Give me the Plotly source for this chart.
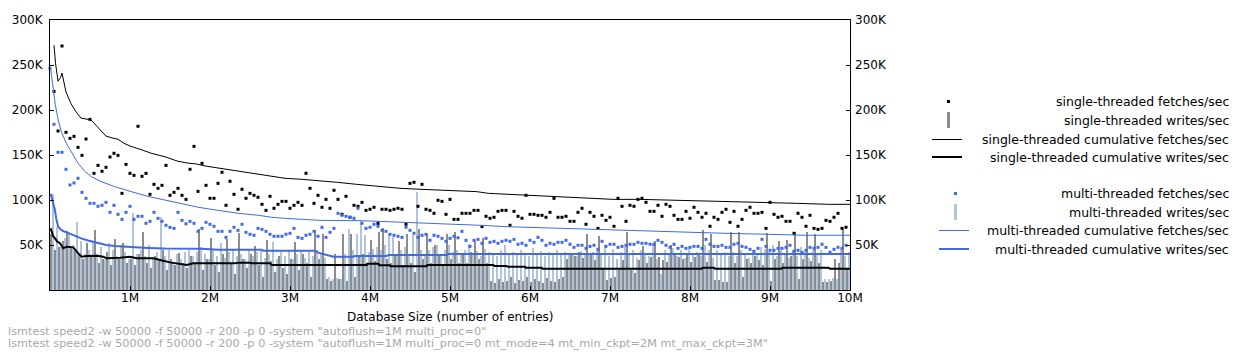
import plotly.graph_objects as go

# ---------------- data (values in thousands of ops/sec) ----------------
STEP = 50000
N_STEPS = 200
db_size = [STEP * i for i in range(N_STEPS)]

st_fetch = [None, 220.7, 176.7, 271.1, 175.2, 168.5, 170.7, 158.5, 149.6, 167.8,
            189.6, 129.6, 138.5, 131.9, 136.3, 147.8, 151.9, 149.6, 107.4, 139.6,
            129.6, 127.4, 181.9, 126.3, 129.6, 106.3, 117.4, 113.0, 116.3, 138.5,
            105.2, 108.5, 113.0, 105.2, 100.7, 134.1, 159.6, 109.6, 140.7, 116.3,
            101.9, 101.9, 118.5, 130.8, 94.1, 120.8, 106.3, 89.7, 111.9, 101.9,
            107.4, 105.2, 103.0, 95.2, 88.5, 104.1, 90.8, 95.2, 98.5, 98.5,
            90.8, 94.1, 97.4, 94.1, 129.7, 113.0, 96.3, 105.2, 91.9, 100.7,
            90.8, 110.8, 100.7, 84.1, 104.1, 80.8, 94.1, 93.0, 97.4, 88.5,
            89.7, 91.9, 74.0, 89.7, 89.7, 88.5, 89.7, 90.8, 89.7, 73.0,
            118.5, 119.7, 93.0, 117.4, 89.7, 88.5, 85.2, 99.7, 98.5, 84.1,
            100.7, 78.5, 78.5, 85.2, 85.2, 85.2, 88.5, 88.5, 70.4, 81.9,
            79.7, 80.8, 87.4, 88.5, 88.5, 71.9, 87.4, 81.9, 79.7, 105.2,
            84.1, 84.1, 83.0, 83.0, 80.8, 86.3, 101.9, 80.8, 80.8, 81.9,
            76.3, 76.3, 86.3, 90.8, 73.0, 86.3, 81.9, 68.5, 83.0, 77.4,
            80.8, 70.8, 101.9, 93.0, 76.3, 94.1, 93.0, 100.7, 101.9, 97.4,
            87.4, 87.4, 94.1, 81.9, 95.2, 93.0, 83.0, 78.5, 78.5, 87.4,
            79.7, 91.9, 86.3, 80.8, 85.2, 70.8, 80.8, 78.5, 86.3, 89.7,
            75.2, 87.4, 70.8, 78.5, 88.5, 91.9, 85.2, 85.2, 86.3, 68.5,
            97.4, 84.1, 80.8, 81.9, 76.3, 76.3, 63.0, 85.2, 80.8, 70.8,
            83.0, 68.5, 67.4, 68.5, 77.4, 76.3, 80.8, 85.2, 68.5, 69.7]

mt_fetch = [246.3, 184.1, 153.0, 153.0, 134.1, 116.7, 118.9, 124.1, 108.5, 101.9,
            96.3, 96.3, 93.0, 94.1, 97.4, 86.3, 94.1, 84.1, 78.5, 86.3,
            93.0, 78.5, 81.9, 81.9, 74.1, 76.3, 86.3, 79.6, 76.3, 71.9,
            69.6, 68.5, 86.3, 77.4, 73.5, 76.3, 74.1, 65.2, 68.5, 75.2,
            73.0, 70.8, 65.2, 65.2, 58.5, 65.2, 69.7, 66.3, 73.0, 64.1,
            61.9, 60.8, 68.5, 67.4, 65.2, 61.9, 59.7, 59.7, 59.7, 61.9,
            63.0, 68.5, 58.5, 57.4, 60.8, 61.9, 65.2, 59.7, 69.7, 58.5,
            64.1, 68.5, 85.2, 83.0, 81.9, 80.8, 79.7, 90.8, 74.1, 68.5,
            69.7, 73.0, 70.8, 66.3, 65.2, 61.9, 60.8, 59.7, 58.5, 69.7,
            66.3, 63.0, 58.5, 60.8, 61.9, 55.2, 60.8, 59.7, 57.4, 54.1,
            57.4, 59.7, 58.0, 65.2, 55.2, 48.5, 55.2, 56.3, 51.9, 57.4,
            53.0, 54.1, 51.9, 54.1, 55.2, 54.1, 56.3, 50.8, 51.9, 49.7,
            55.2, 53.0, 58.5, 55.2, 49.7, 51.9, 50.8, 53.0, 53.0, 55.2,
            50.8, 47.4, 49.7, 49.7, 46.3, 48.5, 49.7, 45.2, 54.1, 48.5,
            50.8, 50.8, 47.4, 48.5, 49.7, 50.8, 50.8, 53.0, 51.9, 51.9,
            50.8, 50.8, 55.2, 53.0, 49.7, 47.4, 50.8, 46.3, 48.5, 46.3,
            47.4, 48.5, 48.5, 46.3, 56.3, 50.8, 48.5, 48.5, 49.7, 47.4,
            47.4, 50.8, 51.9, 48.5, 47.4, 45.2, 43.0, 46.3, 56.3, 48.5,
            44.1, 44.1, 46.3, 46.3, 47.4, 49.7, 43.0, 44.1, 41.9, 44.1,
            47.4, 46.3, 47.4, 50.8, 47.4, 41.9, 45.2, 47.4, 46.3, 49.7]

# writes/sec per step
st_write = [62, 44, 48, 55, 66, 48, 45, 40, 35, 52,
            38, 67, 30, 35, 42, 28, 57, 35, 52, 30,
            35, 28, 40, 64, 30, 25, 38, 32, 45, 22,
            35, 28, 41, 30, 25, 38, 30, 68, 22, 35,
            58, 28, 20, 40, 57, 30, 18, 63, 35, 25,
            40, 49, 28, 15, 56, 32, 20, 38, 25, 18,
            35, 53, 22, 40, 30, 15, 67, 35, 62, 12,
            10, 40, 12, 62, 10, 62, 15, 38, 40, 30,
            56, 32, 64, 69, 35, 30, 40, 54, 28, 62,
            30, 20, 68, 35, 62, 30, 50, 38, 28, 62,
            35, 64, 30, 40, 30, 42, 54, 35, 58, 30,
            10, 8, 12, 9, 10, 14, 8, 11, 10, 15,
            9, 12, 10, 8, 13, 10, 9, 12, 14, 35,
            40, 38, 42, 36, 62, 40, 33, 60, 24, 11,
            13, 15, 22, 33, 64, 22, 19, 33, 49, 30,
            37, 54, 37, 33, 31, 50, 39, 37, 35, 41,
            31, 37, 41, 67, 31, 62, 11, 11, 9, 9,
            65, 30, 65, 15, 35, 30, 38, 33, 28, 63,
            10, 35, 54, 30, 56, 38, 65, 12, 35, 65,
            32, 62, 30, 9, 9, 10, 35, 30, 68, 25]

mt_write = [107, 70, 48, 58, 62, 50, 76, 55, 40, 45,
            55, 40, 48, 35, 52, 45, 38, 50, 42, 35,
            86, 40, 45, 38, 50, 35, 42, 81, 38, 45,
            30, 40, 35, 42, 45, 38, 42, 48, 40, 35,
            44, 38, 52, 36, 42, 46, 38, 40, 35, 44,
            38, 42, 45, 36, 40, 53, 35, 42, 38, 45,
            34, 40, 44, 36, 42, 38, 45, 40, 36, 14,
            12, 13, 12, 40, 68, 45, 62, 78, 61, 42,
            46, 48, 45, 50, 62, 59, 40, 45, 48, 40,
            61, 109, 45, 40, 44, 48, 50, 40, 45, 50,
            42, 44, 40, 45, 51, 40, 43, 38, 46, 42,
            40, 38, 44, 50, 40, 42, 39, 44, 41, 38,
            47, 40, 43, 38, 42, 40, 44, 39, 42, 41,
            40, 38, 43, 40, 39, 42, 45, 40, 50, 38,
            46, 35, 42, 48, 40, 44, 36, 45, 40, 38,
            52, 35, 18, 44, 40, 47, 38, 45, 36, 48,
            40, 42, 38, 50, 44, 36, 45, 40, 42, 38,
            42, 38, 45, 40, 36, 44, 40, 48, 46, 42,
            50, 38, 45, 40, 36, 44, 38, 48, 42, 36,
            44, 40, 45, 12, 12, 13, 12, 46, 38, 42]

# cumulative series (database size in thousands of entries, value in K/sec)
st_cum_fetch_x = [50, 69, 100, 131, 150, 200, 263, 325, 388, 450, 513, 575, 638, 700, 775, 850,
                  925, 1000, 1138, 1263, 1438, 1600, 1725, 1834, 1938, 2104, 2313, 2521, 2729,
                  2938, 3146, 3271, 3438, 3584, 3834, 4084, 4250, 4375, 4625, 4834, 5084, 5334,
                  5479, 5729, 5979, 6229, 6521, 6813, 7041, 7375, 7875, 8334, 8500, 8875, 9334,
                  9729, 10000]
st_cum_fetch = [272, 252, 232, 236, 241, 220, 207, 198, 191, 190, 189, 183, 177, 171, 169, 167.5,
                163, 160, 156, 152, 148, 143, 141, 140, 137.8, 135.6, 132.6, 129.6, 126.7,
                124.1, 123, 122.2, 120.4, 119.7, 117.4, 115.2, 113.7, 113, 111.9, 111.1, 109.6,
                109.3, 107.4, 106.3, 105.2, 104.1, 103, 102.2, 100.7, 100.7, 99.7, 98.9, 98.5,
                97.8, 96.3, 95.2, 95.2]

st_cum_write_x = [9, 38, 63, 88, 125, 166, 209, 291, 354, 396, 459, 584, 666, 709, 875, 1000,
                  1084, 1291, 1375, 1500, 1709, 1791, 2313, 2354, 2500, 2521, 2750, 2771, 3959,
                  3966, 4104, 4116, 4250, 4259, 4709, 4716, 5541, 5554, 5709, 5721, 5938, 5946,
                  6146, 6154, 8146, 8159, 8300, 8313, 9146, 9154, 9729, 9750, 10000]
st_cum_write = [68.5, 60, 57.4, 54, 52, 46.3, 48.1, 47.4, 40.7, 37, 37.8, 38.1, 37, 35.2, 35.9, 37,
                35.2, 35.2, 33.3, 30.7, 27.8, 29.6, 29.6, 30.4, 30.4, 29.6, 29.6, 27.8, 27.8,
                29.3, 29.3, 27.4, 27.4, 26.3, 26.3, 27.8, 27.8, 26.7, 26.7, 25.9, 25.9, 24.8,
                24.8, 23.7, 23.7, 24.8, 24.8, 23.7, 23.7, 24.8, 24.8, 23.7, 23.7]

mt_cum_fetch_x = [9, 38, 66, 100, 141, 204, 266, 350, 434, 516, 641, 809, 1016, 1225, 1434, 1641,
                  1725, 1854, 2021, 2188, 2354, 2604, 2771, 2938, 3104, 3375, 3896, 4250, 4541,
                  4875, 5188, 5375, 5688, 5979, 6334, 6688, 6991, 7438, 7938, 8438, 8979, 9438,
                  10000]
mt_cum_fetch = [245, 226, 206, 190, 176, 163, 154, 141, 132, 126, 120.4, 114.8, 109.3, 104, 100,
                96, 94.4, 91.9, 89.6, 87.4, 85.2, 83, 80.8, 79.6, 78.5, 77.4, 77, 75.9, 74.8,
                73.7, 73, 71.9, 70.4, 69.6, 68.1, 67.4, 66.7, 65.2, 64.1, 63, 61.9, 60.8, 60.8]

mt_cum_write_x = [9, 38, 59, 79, 100, 125, 163, 225, 309, 391, 475, 559, 641, 704, 809, 1016,
                  1225, 1434, 1725, 1896, 2104, 2646, 2666, 3313, 3354, 3459, 3541, 3791, 3813,
                  4209, 4229, 4959, 4966, 10000]
mt_cum_write = [107, 97, 90, 79, 71, 68, 65.5, 63.5, 60, 57.4, 55, 53, 51.5, 50, 49, 47.5, 46.8,
                46.1, 45.9, 45.9, 44.8, 44.8, 43.7, 43.7, 41.5, 38.9, 37, 37, 37.8, 37.8, 38.9,
                38.9, 40, 40]

y_ticks = [50, 100, 150, 200, 250, 300]
y_tick_text = ["50K", "100K", "150K", "200K", "250K", "300K"]
x_ticks = [1e6 * k for k in range(1, 11)]
x_tick_text = ["%dM" % k for k in range(1, 11)]

legend_labels = ["single-threaded fetches/sec", "single-threaded writes/sec",
                 "single-threaded cumulative fetches/sec", "single-threaded cumulative writes/sec",
                 "multi-threaded fetches/sec", "multi-threaded writes/sec",
                 "multi-threaded cumulative fetches/sec", "multi-threaded cumulative writes/sec"]
footer_lines = ['lsmtest speed2 -w 50000 -f 50000 -r 200 -p 0 -system "autoflush=1M multi_proc=0"',
                'lsmtest speed2 -w 50000 -f 50000 -r 200 -p 0 -system "autoflush=1M multi_proc=0 mt_mode=4 mt_min_ckpt=2M mt_max_ckpt=3M"']

# ---------------- styling ----------------
BLACK = "#000000"
GRAY = "#8c8c8c"
LIGHTBLUE = "#b0c4de"
BLUE = "#4169e1"
FONT = "DejaVu Sans"

W, H = 1252, 352
L, R, T, B = 50, 850, 20, 290  # plot area in pixels
PXW = (R - L) / 1e7  # pixels per entry

fig = go.Figure()

bar_w = 2 / PXW
fig.add_trace(go.Bar(x=db_size, y=st_write, width=bar_w, offset=0,
                     marker=dict(color=GRAY, line=dict(width=0))))
fig.add_trace(go.Bar(x=db_size, y=mt_write, width=bar_w, offset=bar_w,
                     marker=dict(color=LIGHTBLUE, line=dict(width=0))))

fig.add_trace(go.Scatter(x=db_size, y=st_fetch, mode="markers", cliponaxis=False,
                         marker=dict(symbol="square", size=3, color=BLACK, line=dict(width=0))))
fig.add_trace(go.Scatter(x=[v * 1000 for v in st_cum_fetch_x], y=st_cum_fetch, mode="lines",
                         line=dict(color=BLACK, width=1)))
fig.add_trace(go.Scatter(x=[v * 1000 for v in st_cum_write_x], y=st_cum_write, mode="lines",
                         line=dict(color=BLACK, width=2)))
fig.add_trace(go.Scatter(x=db_size, y=mt_fetch, mode="markers", cliponaxis=False,
                         marker=dict(symbol="square", size=3, color=BLUE, line=dict(width=0))))
fig.add_trace(go.Scatter(x=[v * 1000 for v in mt_cum_fetch_x], y=mt_cum_fetch, mode="lines",
                         line=dict(color=BLUE, width=1)))
fig.add_trace(go.Scatter(x=[v * 1000 for v in mt_cum_write_x], y=mt_cum_write, mode="lines",
                         line=dict(color=BLUE, width=2)))
# invisible trace to activate the right-hand axis
fig.add_trace(go.Scatter(x=[0], y=[0], yaxis="y2", mode="markers",
                         marker=dict(opacity=0), hoverinfo="skip"))


def px_x(p):
    return (p - L) / (R - L)


def px_y(p):
    return (B - p) / (B - T)


shapes = []
annotations = []
row_y = [101.5, 120, 139, 157, 193.5, 212, 230.5, 249]
text_right = 1231
for lab, yy in zip(legend_labels, row_y):
    annotations.append(dict(x=px_x(text_right), y=px_y(yy), xref="paper", yref="paper",
                            text=lab, showarrow=False, xanchor="right", yanchor="middle",
                            font=dict(family=FONT, size=12.5, color=BLACK)))


def rect(x0, x1, y0, y1, color):
    shapes.append(dict(type="rect", xref="paper", yref="paper", x0=px_x(x0), x1=px_x(x1),
                       y0=px_y(y0), y1=px_y(y1), fillcolor=color, line=dict(width=0)))


def hline(x0, x1, y, color, w):
    shapes.append(dict(type="line", xref="paper", yref="paper", x0=px_x(x0), x1=px_x(x1),
                       y0=px_y(y), y1=px_y(y), line=dict(color=color, width=w)))


rect(947, 950, 100, 103, BLACK)
rect(947, 950, 112, 128, GRAY)
hline(932, 962, 139.5, BLACK, 1)
hline(932, 962, 157, BLACK, 2)
rect(954, 957, 192, 195, BLUE)
rect(954, 957, 204, 220, LIGHTBLUE)
hline(939, 969, 230.5, BLUE, 1)
hline(939, 969, 249, BLUE, 2)

annotations.append(dict(x=0.5, y=px_y(317), xref="paper", yref="paper",
                        text="Database Size (number of entries)", showarrow=False,
                        xanchor="center", yanchor="middle",
                        font=dict(family=FONT, size=12, color=BLACK)))
for line, yy in zip(footer_lines, [332, 343]):
    annotations.append(dict(x=px_x(6), y=px_y(yy), xref="paper", yref="paper",
                            text=line, showarrow=False, xanchor="left", yanchor="middle",
                            font=dict(family=FONT, size=11.3, color="#a8a8a8")))

axis_font = dict(family=FONT, size=12, color=BLACK)
fig.update_layout(
    width=W, height=H,
    margin=dict(l=L, r=W - R, t=T, b=H - B, pad=0),
    paper_bgcolor="white", plot_bgcolor="white",
    showlegend=False, barmode="overlay", bargap=0,
    font=dict(family=FONT, size=12, color=BLACK),
    xaxis=dict(range=[0, 1e7], tickvals=x_ticks, ticktext=x_tick_text, ticks="inside",
               ticklen=4, tickcolor=BLACK, showgrid=False, zeroline=False, showline=True,
               linecolor=BLACK, linewidth=1, mirror=True, tickfont=axis_font,
               ticklabelstandoff=-3),
    yaxis=dict(range=[0, 300], tickvals=y_ticks, ticktext=y_tick_text, ticks="inside",
               ticklen=4, tickcolor=BLACK, showgrid=False, zeroline=False, showline=True,
               linecolor=BLACK, linewidth=1, mirror=True, tickfont=axis_font,
               ticklabelstandoff=4),
    yaxis2=dict(range=[0, 300], tickvals=y_ticks, ticktext=y_tick_text, ticks="inside",
                ticklen=4, tickcolor=BLACK, showgrid=False, zeroline=False, showline=False,
                overlaying="y", side="right", tickfont=axis_font, ticklabelstandoff=4),
    shapes=shapes, annotations=annotations,
)

fig.write_html("out.html")
